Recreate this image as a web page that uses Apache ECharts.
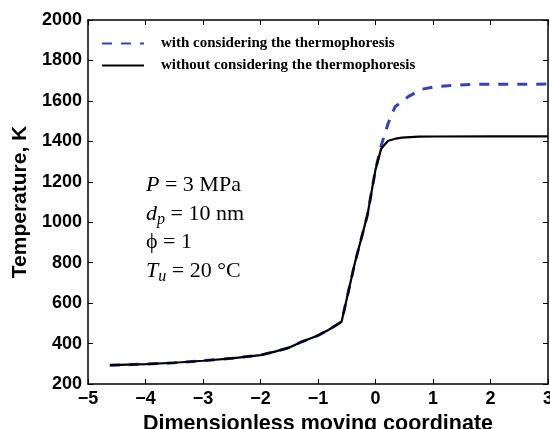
<!DOCTYPE html>
<html>
<head>
<meta charset="utf-8">
<script src="https://cdn.jsdelivr.net/npm/echarts@6/dist/echarts.min.js"></script>
<style>
  html, body { margin: 0; padding: 0; background: #fff; }
  #main { width: 550px; height: 429px; }
</style>
</head>
<body>
<div id="main"></div>
<script>
"use strict";
// values
var xWithout = [-4.62, -4, -3.5, -3, -2.5, -2, -1.75, -1.5, -1.28, -1, -0.82, -0.59,
                -0.36, -0.14, 0, 0.1, 0.22, 0.35, 0.46, 0.6, 0.75, 1, 2, 3];
var tWithout = [293, 298, 305, 315, 327, 343, 360, 380, 409, 440, 467, 508,
                797, 1036, 1260, 1365, 1403, 1413, 1418, 1421, 1423, 1424, 1425, 1425];

var xWith = [-4.62, -4, -3.5, -3, -2.5, -2, -1.75, -1.5, -1.28, -1, -0.82, -0.59,
             -0.36, -0.14, 0, 0.1, 0.22, 0.34, 0.57, 0.8, 1.03, 1.38, 1.73, 3];
var tWith = [293, 298, 305, 315, 327, 343, 360, 380, 409, 440, 467, 508,
             797, 1036, 1260, 1380, 1489, 1571, 1621, 1657, 1670, 1677, 1682, 1683];

var seriesNames = ['with considering the thermophoresis', 'without considering the thermophoresis'];

function pairs(xs, ys) {
    return xs.map(function (x, i) { return [x, ys[i]]; });
}

var chart = echarts.init(document.getElementById('main'));
var serif = '"Liberation Serif", "Times New Roman", serif';
var sans = '"Liberation Sans", Arial, sans-serif';

var axisCommon = {
    axisLine: { show: true, onZero: false, lineStyle: { color: '#000', width: 1.5 } },
    axisTick: { show: true, inside: true, length: 5, lineStyle: { color: '#000', width: 1 } },
    splitLine: { show: false }
};

var option = {
    animation: false,
    backgroundColor: '#fff',
    grid: { left: 88, right: 2, top: 20, bottom: 45, outerBoundsMode: 'none' },
    legend: {
        orient: 'vertical',
        left: 96,
        top: 31,
        itemWidth: 42,
        itemHeight: 14,
        itemGap: 7,
        data: seriesNames,
        itemStyle: { opacity: 0 },
        textStyle: { fontFamily: serif, fontWeight: 'bold', fontSize: 15, color: '#000', padding: [0, 0, 0, 12] }
    },
    xAxis: [
        Object.assign({}, axisCommon, {
            type: 'value', min: -5, max: 3, interval: 1, position: 'bottom',
            name: 'Dimensionless moving coordinate', nameLocation: 'middle', nameGap: 27,
            nameTextStyle: { fontFamily: sans, fontWeight: 'bold', fontSize: 21.5, color: '#000' },
            axisLabel: {
                fontFamily: sans, fontWeight: 'bold', fontSize: 18, color: '#000', margin: 6,
                formatter: function (v) { return String(v).replace('-', '\u2212'); }
            }
        }),
        Object.assign({}, axisCommon, {
            type: 'value', min: -5, max: 3, interval: 1, position: 'top',
            axisLabel: { show: false }
        })
    ],
    yAxis: [
        Object.assign({}, axisCommon, {
            type: 'value', min: 200, max: 2000, interval: 200, position: 'left',
            name: 'Temperature, K', nameLocation: 'middle', nameGap: 50,
            nameTextStyle: { fontFamily: sans, fontWeight: 'bold', fontSize: 21, color: '#000' },
            axisLabel: {
                fontFamily: sans, fontWeight: 'bold', fontSize: 18, color: '#000', margin: 6,
                formatter: function (v) { return String(v); }
            }
        }),
        Object.assign({}, axisCommon, {
            type: 'value', min: 200, max: 2000, interval: 200, position: 'right',
            axisLabel: { show: false }
        })
    ],
    graphic: [{
        type: 'text',
        left: 146,
        top: 171,
        style: {
            text: '{i|P} = 3 MPa\n{i|d}{s|p} = 10 nm\n\u03D5 = 1\n{i|T}{s|u} = 20 \u00B0C',
            fontFamily: serif,
            fontSize: 22,
            lineHeight: 28.5,
            fill: '#000',
            rich: {
                i: { fontFamily: serif, fontStyle: 'italic', fontSize: 22 },
                s: { fontFamily: serif, fontStyle: 'italic', fontSize: 16, verticalAlign: 'bottom', padding: [10, 0, 0, 0] }
            }
        }
    }],
    series: [
        {
            name: seriesNames[0],
            type: 'line',
            data: pairs(xWith, tWith),
            showSymbol: false,
            symbol: 'none',
            lineStyle: { color: '#3343b8', width: 3, type: [10, 9] },
            itemStyle: { color: '#3343b8' },
            z: 2
        },
        {
            name: seriesNames[1],
            type: 'line',
            data: pairs(xWithout, tWithout),
            showSymbol: false,
            symbol: 'none',
            lineStyle: { color: '#000', width: 2.2 },
            itemStyle: { color: '#000' },
            z: 3
        }
    ]
};

chart.setOption(option);
</script>
</body>
</html>
